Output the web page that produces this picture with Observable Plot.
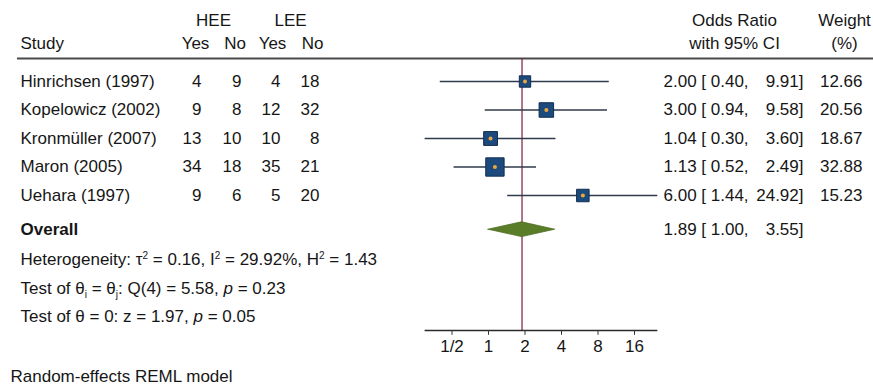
<!DOCTYPE html>
<html><head><meta charset="utf-8">
<script src="https://cdn.jsdelivr.net/npm/d3@7"></script>
<script src="https://cdn.jsdelivr.net/npm/@observablehq/plot@0.6"></script>
<style>
body{margin:0;background:#fff;}
#chart{width:873px;height:385px;}
</style></head><body><div id="chart"></div>
<script>
// ---- data ----
const studies = ["Hinrichsen (1997)", "Kopelowicz (2002)", "Kronmüller (2007)", "Maron (2005)", "Uehara (1997)"];
const heeYes = [4, 9, 13, 34, 9];
const heeNo = [9, 8, 10, 18, 6];
const leeYes = [4, 12, 10, 35, 5];
const leeNo = [18, 32, 8, 21, 20];
const oddsRatio = [2.00, 3.00, 1.04, 1.13, 6.00];
const ciLow = [0.40, 0.94, 0.30, 0.52, 1.44];
const ciHigh = [9.91, 9.58, 3.60, 2.49, 24.92];
const weight = [12.66, 20.56, 18.67, 32.88, 15.23];
const overallOR = 1.89, overallLow = 1.00, overallHigh = 3.55;
const statLines = [
  "Heterogeneity: τ2 = 0.16, I2 = 29.92%, H2 = 1.43",
  "Test of θi = θj: Q(4) = 5.58, p = 0.23",
  "Test of θ = 0: z = 1.97, p = 0.05"
];
const statRich = [
  'Heterogeneity: τ<tspan dy="-6" font-size="10">2</tspan><tspan dy="6"> = 0.16, I</tspan><tspan dy="-6" font-size="10">2</tspan><tspan dy="6"> = 29.92%, H</tspan><tspan dy="-6" font-size="10">2</tspan><tspan dy="6"> = 1.43</tspan>',
  'Test of θ<tspan dy="4" font-size="10">i</tspan><tspan dy="-4"> = θ</tspan><tspan dy="4" font-size="10">j</tspan><tspan dy="-4">: Q(4) = 5.58, </tspan><tspan font-style="italic">p</tspan> = 0.23',
  'Test of θ = 0: z = 1.97, <tspan font-style="italic">p</tspan> = 0.05'
];
const xTicks = [0.5, 1, 2, 4, 8, 16];
const tickLabels = ["1/2", "1", "2", "4", "8", "16"];
const footnote = "Random-effects REML model";

// ---- table built from arrays ----
const table = studies.map((s, i) => ({
  i, s, hy: heeYes[i], hn: heeNo[i], ly: leeYes[i], ln: leeNo[i],
  or: oddsRatio[i], lo: ciLow[i], hi: ciHigh[i], w: weight[i]
}));

// ---- layout (row slots & column pixel offsets) ----
const L = {hdr1: -2.14, hdr2: -1.33, rule: -0.81, overall: 5.2, stats: [6.25, 7.25, 8.25], axis: 8.737, tickLab: 9.3, note: 10.35};
const txtColor = "#161616";
const col = (data, text, px, anchor, y, extra = {}) =>
  Plot.text(data, {text, y, frameAnchor: "left", dx: px, textAnchor: anchor, fill: txtColor, fontSize: 17, ...extra});

const diamond = [
  {x: overallLow, y1: L.overall, y2: L.overall},
  {x: overallOR, y1: L.overall - 0.26, y2: L.overall + 0.26},
  {x: overallHigh, y1: L.overall, y2: L.overall}
];

const chart = Plot.plot({
  width: 873, height: 385, margin: 0,
  style: {fontFamily: '"Liberation Sans", Arial, sans-serif', fontSize: "17px", background: "#fff", color: txtColor},
  x: {type: "log", base: 2, domain: [0.25, 32], range: [415, 670.5], axis: null},
  y: {type: "linear", domain: [0, 1], range: [81, 109.5], axis: null},
  r: {type: "sqrt", domain: [0, 40], range: [0, 11.42]},
  marks: [
    // header rule
    Plot.ruleY([L.rule], {y: d => d, stroke: "#4a4a4a", strokeWidth: 2, insetLeft: 17}),
    // overall effect line
    Plot.ruleX([overallOR], {x: d => d, y1: L.rule, y2: L.axis, stroke: "#7a1c3e", strokeWidth: 1.2}),
    // CI lines
    Plot.ruleY(table, {y: "i", x1: "lo", x2: "hi", stroke: "#2f3a4a", strokeWidth: 1.3}),
    // weight squares
    Plot.dot(table, {x: "or", y: "i", r: "w", symbol: "square", fill: "#1d4a7c", stroke: "#0f2e52", strokeWidth: 1}),
    Plot.dot(table, {x: "or", y: "i", r: 2, fill: "#e9a83c"}),
    // overall diamond
    Plot.areaY(diamond, {x: "x", y1: "y1", y2: "y2", fill: "#5a7d2a", stroke: "#4d6e22", strokeWidth: 0.8}),
    // x axis
    Plot.ruleY([L.axis], {y: d => d, x1: d3.min(ciLow), x2: d3.max(ciHigh), stroke: "#2a2a2a", strokeWidth: 1.6}),
    Plot.ruleX(xTicks, {x: d => d, y1: L.axis, y2: L.axis + 0.17, stroke: "#333"}),
    Plot.text(xTicks, {x: d => d, y: L.tickLab, text: (d, i) => tickLabels[i], fill: txtColor, fontSize: 17}),
    // headers
    col(["HEE"], d => d, 213, "middle", L.hdr1),
    col(["LEE"], d => d, 290, "middle", L.hdr1),
    col(["Study"], d => d, 20, "start", L.hdr2),
    col(["Yes"], d => d, 195, "middle", L.hdr2),
    col(["No"], d => d, 234.5, "middle", L.hdr2),
    col(["Yes"], d => d, 272, "middle", L.hdr2),
    col(["No"], d => d, 312, "middle", L.hdr2),
    col(["Odds Ratio"], d => d, 734, "middle", L.hdr1),
    col(["with 95% CI"], d => d, 734, "middle", L.hdr2),
    col(["Weight"], d => d, 844, "middle", L.hdr1),
    col(["(%)"], d => d, 844, "middle", L.hdr2),
    // study rows
    col(table, "s", 20, "start", "i"),
    col(table, "hy", 201, "end", "i"),
    col(table, "hn", 241, "end", "i"),
    col(table, "ly", 280, "end", "i"),
    col(table, "ln", 319, "end", "i"),
    col(table, d => `${d.or.toFixed(2)} [ ${d.lo.toFixed(2)},`, 663, "start", "i"),
    col(table, d => `${d.hi.toFixed(2)}]`, 803, "end", "i"),
    col(table, d => d.w.toFixed(2), 862, "end", "i"),
    // overall row
    col(["Overall"], d => d, 20, "start", L.overall, {fontWeight: "bold"}),
    col([overallOR], d => `${overallOR.toFixed(2)} [ ${overallLow.toFixed(2)},`, 663, "start", L.overall),
    col([overallHigh], d => `${overallHigh.toFixed(2)}]`, 803, "end", L.overall),
    // statistics
    col(statLines, d => d, 20, "start", (d, i) => L.stats[i]),
    // footnote
    col([footnote], d => d, 10, "start", L.note)
  ]
});
document.getElementById("chart").append(chart);

// rich text (superscripts, subscripts, italic p)
chart.querySelectorAll("text").forEach(t => {
  const k = statLines.indexOf(t.textContent);
  if (k >= 0) t.innerHTML = statRich[k];
});
</script>
</body></html>
